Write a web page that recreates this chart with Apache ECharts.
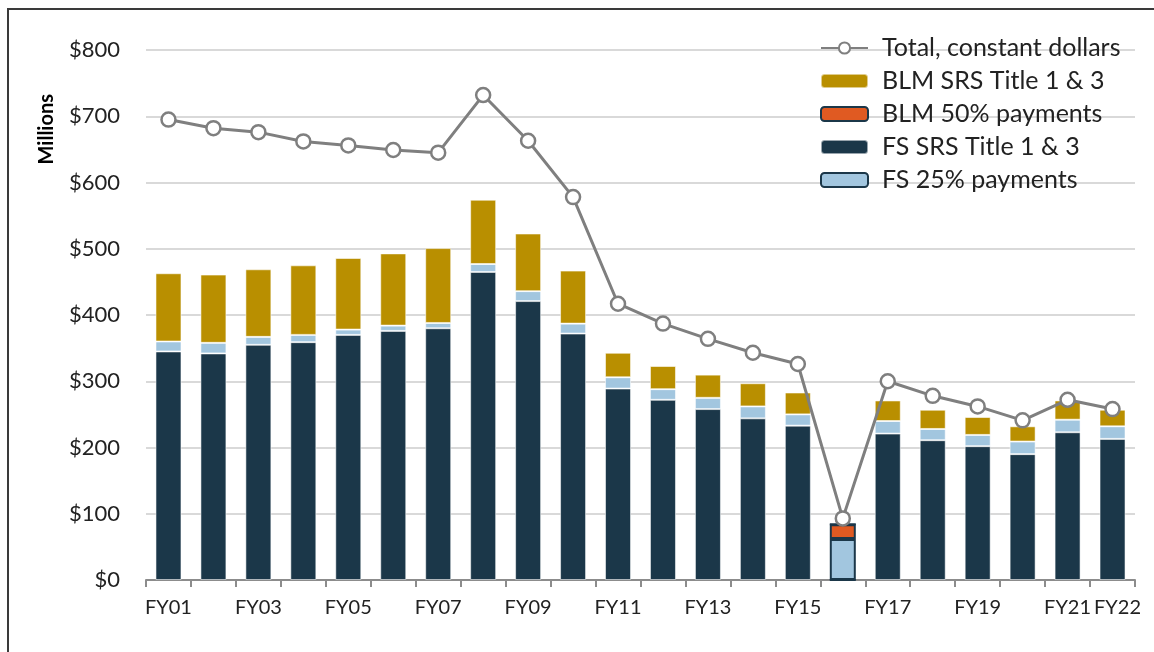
<!DOCTYPE html>
<html>
<head>
<meta charset="utf-8">
<script src="https://cdn.jsdelivr.net/npm/echarts@6/dist/echarts.min.js"></script>
<style>
html,body{margin:0;padding:0;background:#fff;}
#frame{position:absolute;left:7px;top:8px;width:1160px;height:660px;border-left:2px solid #3a3a3a;border-top:2px solid #3a3a3a;box-sizing:border-box;}
#chart{position:absolute;left:0;top:0;width:1154px;height:652px;}
</style>
</head>
<body>
<div id="frame"></div>
<div id="chart"></div>
<script>
const categories = ['FY01','FY02','FY03','FY04','FY05','FY06','FY07','FY08','FY09','FY10','FY11','FY12','FY13','FY14','FY15','FY16','FY17','FY18','FY19','FY20','FY21','FY22'];
const fsSrs   = [345, 342, 355, 359, 370, 376, 380, 465, 421, 372, 289, 272, 258, 244, 233, 0, 221, 211, 202, 190, 223, 213];
const fs25    = [15, 16, 12, 11, 8, 8, 8, 12, 15, 15, 17, 16, 17, 18, 17, 62, 19, 17, 17, 19, 19, 19];
const blm50   = [0, 0, 0, 0, 0, 0, 0, 0, 0, 0, 0, 0, 0, 0, 0, 22, 0, 0, 0, 0, 0, 0];
const blmSrs  = [103, 103, 102, 105, 108, 109, 113, 97, 87, 80, 37, 35, 35, 35, 33, 0, 31, 29, 27, 23, 29, 25];
const totalConst = [695, 682, 676, 662, 656, 649, 645, 732, 663, 578, 417, 387, 364, 343, 326, 93, 300, 278, 262, 241, 272, 258];
const yTicks = [0, 100, 200, 300, 400, 500, 600, 700, 800];
const shownLabels = ['FY01','FY03','FY05','FY07','FY09','FY11','FY13','FY15','FY17','FY19','FY21'];
const lastLabel = ['FY22'];

const C = {gold:'#B98F00', orange:'#E05A22', navy:'#1B3749', lblue:'#A2C6DF', gray:'#7F7F7F'};
const FONT = 'Lato, "Liberation Sans", sans-serif';

function barData(arr){
  return arr.map((v,i)=> fsSrs[i]===0 ? {value:v, itemStyle:{borderColor:C.navy, borderWidth:2}} : v);
}
function barSeries(name, arr, color){
  return {
    name, type:'bar', stack:'s', data: barData(arr), barWidth:26,
    itemStyle:{color, borderColor:'rgba(255,255,255,0.55)', borderWidth:1},
    emphasis:{disabled:true}, z:2
  };
}
const labelStyle = {fontFamily:FONT, fontSize:20, color:'#222', margin:18};

const chart = echarts.init(document.getElementById('chart'), null, {renderer:'canvas'});
chart.setOption({
  animation:false,
  backgroundColor:'transparent',
  grid:{left:146, right:19, top:50, bottom:72, containLabel:false},
  legend:{
    orient:'vertical', left:815, top:29, itemWidth:47, itemHeight:14, itemGap:5,
    textStyle:{fontFamily:FONT, fontSize:25, color:'#222', lineHeight:28, padding:[0,0,0,9]},
    data:[
      {name:'Total, constant dollars'},
      {name:'BLM SRS Title 1 & 3'},
      {name:'BLM 50% payments', itemStyle:{borderColor:C.navy, borderWidth:2}},
      {name:'FS SRS Title 1 & 3'},
      {name:'FS 25% payments', itemStyle:{borderColor:C.navy, borderWidth:2}}
    ]
  },
  xAxis:[{
    type:'category', data:categories, boundaryGap:true, position:'bottom',
    axisLine:{lineStyle:{color:'#8C8C8C', width:2}},
    axisTick:{show:true, interval:0, length:7, lineStyle:{color:'#8C8C8C', width:2}},
    axisLabel:Object.assign({interval:(i, v)=> shownLabels.includes(v), showMinLabel:true, showMaxLabel:true}, labelStyle)
  },{
    type:'category', data:categories, boundaryGap:true, position:'bottom', offset:0,
    axisLine:{show:false}, axisTick:{show:false}, splitLine:{show:false},
    axisLabel:Object.assign({interval:(i, v)=> lastLabel.includes(v), showMinLabel:true, showMaxLabel:true, padding:[0,0,0,10]}, labelStyle)
  }],
  yAxis:{
    type:'value', min:yTicks[0], max:yTicks[yTicks.length-1], interval:100,
    axisLine:{show:false}, axisTick:{show:false},
    axisLabel:{formatter:v=>'$'+v, fontFamily:FONT, fontSize:22, color:'#222', margin:26},
    splitLine:{lineStyle:{color:'#D9D9D9', width:2}}
  },
  graphic:[{
    type:'text', left:37, top:94, rotation:Math.PI/2,
    style:{text:'Millions', font:'bold 20px '+FONT, fill:'#000'}
  }],
  series:[
    barSeries('FS SRS Title 1 & 3', fsSrs, C.navy),
    barSeries('FS 25% payments', fs25, C.lblue),
    barSeries('BLM 50% payments', blm50, C.orange),
    barSeries('BLM SRS Title 1 & 3', blmSrs, C.gold),
    {
      name:'Total, constant dollars', type:'line', data:totalConst, z:5,
      symbol:'circle', symbolSize:14,
      lineStyle:{color:C.gray, width:3},
      itemStyle:{color:'#fff', borderColor:C.gray, borderWidth:2.5},
      emphasis:{disabled:true}
    }
  ]
});
</script>
</body>
</html>
